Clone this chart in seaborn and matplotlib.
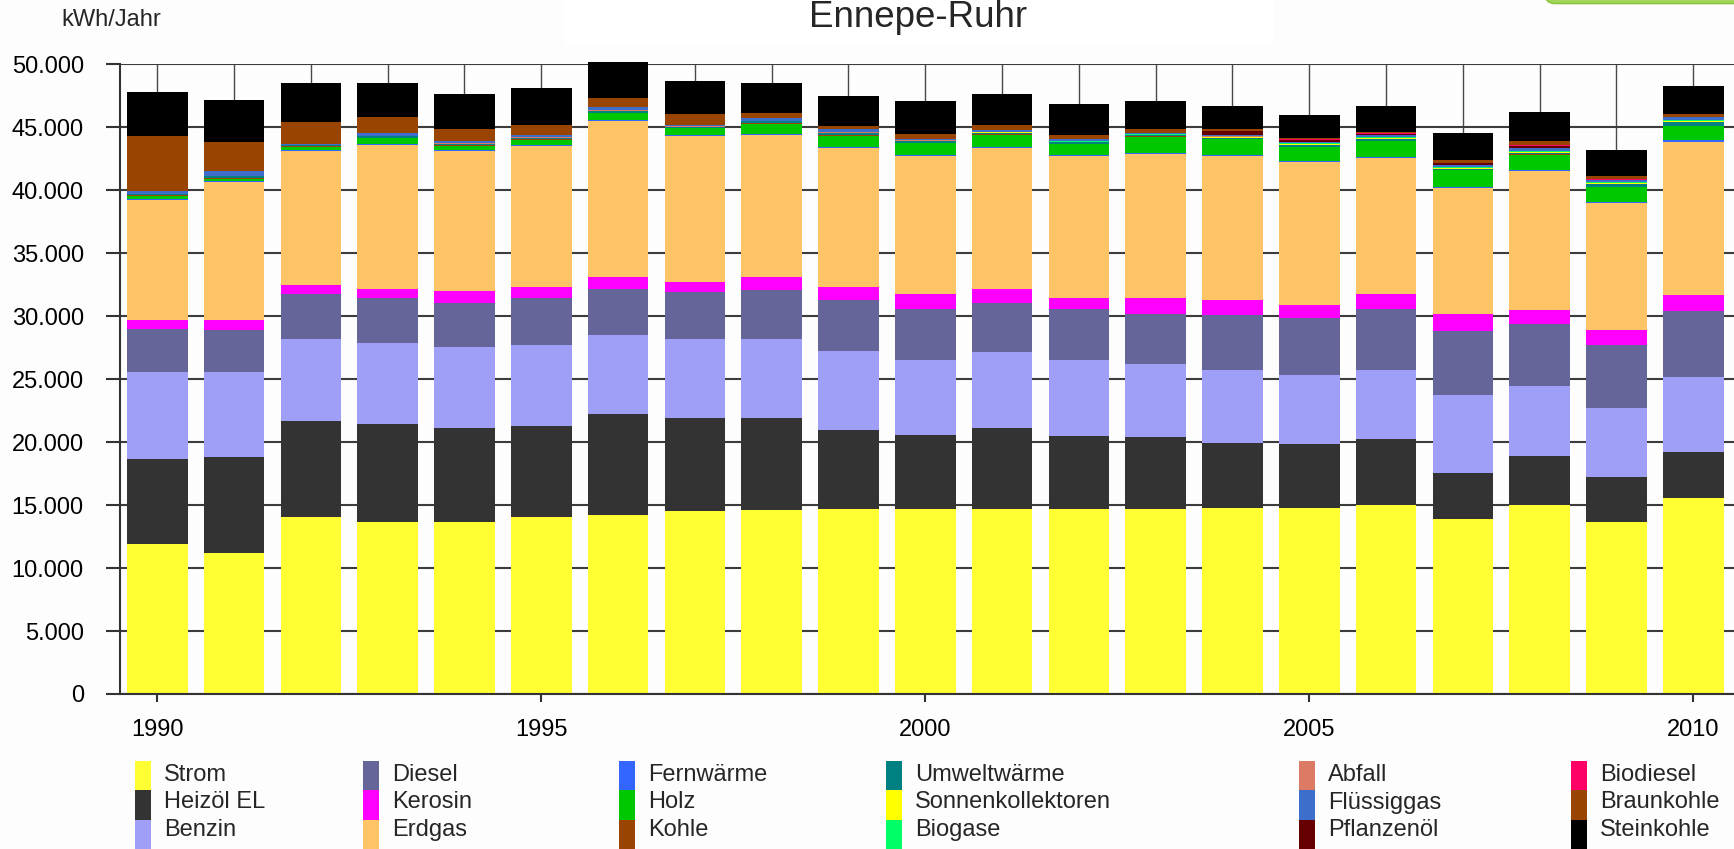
import matplotlib
matplotlib.use("Agg")
import matplotlib.pyplot as plt
import matplotlib.ticker as mticker
import matplotlib.patches as mpatches
import matplotlib.transforms as mtransforms
import pandas as pd
import seaborn as sns

# ---------------------------------------------------------------------------
# Endenergieverbrauch Ennepe-Ruhr nach Energieträgern (kWh/Jahr)
# ---------------------------------------------------------------------------
years = list(range(1990, 2011))

strom = [11940, 11180, 14040, 13650, 13650, 14040, 14240, 14570, 14640, 14700, 14700,
         14700, 14700, 14700, 14800, 14800, 14970, 13910, 14970, 13650, 15560]
heizoel = [6740, 7670, 7670, 7830, 7500, 7270, 7960, 7370, 7300, 6250, 5860,
           6450, 5790, 5690, 5160, 5030, 5260, 3620, 3940, 3620, 3680]
benzin = [6910, 6740, 6510, 6380, 6440, 6420, 6320, 6280, 6280, 6280, 5980,
          5980, 6050, 5820, 5790, 5500, 5520, 6250, 5530, 5420, 5920]
diesel = [3390, 3320, 3520, 3550, 3490, 3680, 3610, 3680, 3850, 4020, 4050,
          3950, 4050, 3950, 4340, 4500, 4840, 5060, 4930, 5040, 5260]
kerosin = [720, 790, 720, 720, 920, 920, 990, 830, 1050, 1080, 1150,
           1050, 890, 1250, 1160, 1090, 1150, 1320, 1120, 1210, 1250]
erdgas = [9540, 10920, 10630, 11490, 11090, 11180, 12370, 11570, 11280, 10990, 11020,
          11190, 11280, 11510, 11510, 11340, 10850, 10060, 11050, 10030, 12170]
fernwaerme = [100, 100, 80, 80, 100, 100, 120, 80, 100, 100, 80,
              80, 80, 80, 80, 80, 80, 80, 80, 100, 120]
holz = [200, 200, 300, 430, 350, 400, 500, 550, 800, 900, 880,
        1000, 800, 1250, 1200, 1100, 1250, 1300, 1200, 1200, 1150]
kohle = [60, 60, 50, 50, 50, 50, 50, 40, 40, 40, 40,
         40, 40, 40, 30, 30, 30, 30, 30, 30, 30]
umweltwaerme = [110, 130, 60, 120, 120, 120, 150, 80, 150, 200, 150,
                150, 150, 100, 100, 150, 150, 100, 150, 200, 300]
sonnenkollektoren = [0, 0, 0, 0, 0, 10, 10, 10, 20, 20, 30,
                     30, 40, 40, 50, 50, 50, 50, 60, 60, 60]
biogase = [0, 0, 0, 0, 0, 0, 0, 0, 0, 0, 0,
           0, 60, 50, 50, 60, 60, 60, 60, 60, 60]
abfall = [20, 20, 20, 20, 20, 20, 20, 20, 20, 20, 20,
          20, 20, 20, 20, 20, 20, 20, 20, 20, 20]
fluessiggas = [230, 380, 40, 230, 180, 190, 260, 140, 190, 230, 110,
               160, 120, 70, 120, 120, 200, 120, 180, 200, 240]
pflanzenoel = [0, 0, 0, 0, 0, 0, 0, 0, 0, 0, 0,
               0, 0, 0, 300, 150, 50, 150, 200, 0, 0]
biodiesel = [0, 0, 0, 0, 0, 0, 0, 0, 0, 0, 0,
             0, 0, 0, 30, 50, 50, 60, 60, 40, 40]
braunkohle = [4340, 2330, 1750, 1250, 980, 820, 700, 830, 430, 300, 400,
              420, 330, 320, 90, 100, 100, 240, 330, 230, 190]
steinkohle = [3490, 3360, 3120, 2690, 2730, 2870, 2860, 2630, 2360, 2330, 2660,
              2400, 2470, 2240, 1880, 1780, 2080, 2140, 2300, 2070, 2200]

carriers = ["Strom", "Heizöl EL", "Benzin", "Diesel", "Kerosin", "Erdgas",
            "Fernwärme", "Holz", "Kohle", "Umweltwärme", "Sonnenkollektoren",
            "Biogase", "Abfall", "Flüssiggas", "Pflanzenöl", "Biodiesel",
            "Braunkohle", "Steinkohle"]
series = [strom, heizoel, benzin, diesel, kerosin, erdgas, fernwaerme, holz, kohle,
          umweltwaerme, sonnenkollektoren, biogase, abfall, fluessiggas,
          pflanzenoel, biodiesel, braunkohle, steinkohle]
colors = ["#ffff33", "#333333", "#9f9ff7", "#65659a", "#ff00ff", "#ffc466",
          "#3366ff", "#00c800", "#994400", "#008080", "#ffff00",
          "#00ff66", "#dd7a66", "#3d6ecc", "#660000", "#ff0066",
          "#994400", "#000000"]
palette = dict(zip(carriers, colors))

rows = []
for name, vals in zip(carriers, series):
    for y, v in zip(years, vals):
        rows.append({"Jahr": y, "Träger": name, "kWh": v})
df = pd.DataFrame(rows)

# ---------------------------------------------------------------------------
sns.set_style("white")
plt.rcParams["font.family"] = ["Liberation Sans", "DejaVu Sans"]

W, H = 1734, 849
fig = plt.figure(figsize=(W / 100, H / 100), dpi=100, facecolor="#fdfdfd")
px = mtransforms.IdentityTransform()

# header box behind the title and the green tab in the corner
fig.add_artist(mpatches.Rectangle((564, H - 44), 710, 60, transform=px,
                                  facecolor="#ffffff", edgecolor="none", zorder=0))
fig.add_artist(mpatches.FancyBboxPatch((1545, H - 3.5), 300, 40,
                                       boxstyle="round,pad=0,rounding_size=10",
                                       transform=px, facecolor="#a4d65e",
                                       edgecolor="#8cc63e", linewidth=1.2, zorder=1))

ax_left, ax_bottom, ax_top = 119.6, 694, 64
ax = fig.add_axes([ax_left / W, 1 - ax_bottom / H, (W - ax_left) / W, (ax_bottom - ax_top) / H])
ax.set_facecolor("none")

sns.histplot(data=df, x="Jahr", weights="kWh", hue="Träger",
             hue_order=carriers[::-1], palette=palette,
             multiple="stack", discrete=True, shrink=0.79, element="bars",
             alpha=1, linewidth=0, edgecolor="none", legend=False, ax=ax)

for p in ax.patches:
    p.set_clip_on(False)

ax.set_xlim(1989.51, 2010.53)
ax.set_ylim(0, 50030)
ax.set_xlabel("")
ax.set_ylabel("")

ax.xaxis.set_major_locator(mticker.MultipleLocator(5))
ax.xaxis.set_minor_locator(mticker.MultipleLocator(1))
ax.yaxis.set_major_locator(mticker.MultipleLocator(5000))
ax.yaxis.set_major_formatter(mticker.FuncFormatter(lambda v, _: f"{int(v):,}".replace(",", ".")))

ax.set_axisbelow(True)
ax.grid(True, axis="y", which="major", color="#3c3c3c", linewidth=1.5)
ax.grid(True, axis="x", which="both", color="#4a4a4a", linewidth=1.0)

ax.tick_params(axis="x", which="major", direction="out", bottom=True, length=5.8, width=1.5,
               pad=12.5, labelsize=17, color="#333333", labelcolor="black")
ax.tick_params(axis="x", which="minor", length=0)
ax.tick_params(axis="y", which="major", direction="out", left=True, length=10, width=1.5,
               pad=15.8, labelsize=17, color="#333333", labelcolor="black")

for side in ("top", "right"):
    ax.spines[side].set_visible(False)
for side in ("left", "bottom"):
    ax.spines[side].set_color("#333333")
    ax.spines[side].set_linewidth(1.5)

# titles
fig.text(918 / W, 1 - 27 / H, "Ennepe-Ruhr", ha="center", va="baseline", fontsize=26.5)
fig.text(61 / W, 1 - 26 / H, "kWh/Jahr", ha="left", va="baseline", fontsize=17)

# legend: six columns of three entries, filled column by column
swatch_x = [135, 363, 619, 886, 1299, 1571]
row_bounds = [(761, 789.5), (789.5, 819.5), (819.5, 849)]
baselines = [781, 808.5, 836]
for i, (name, col) in enumerate(zip(carriers, colors)):
    c, r = divmod(i, 3)
    x0 = swatch_x[c]
    top, bot = row_bounds[r]
    fig.add_artist(mpatches.Rectangle((x0 / W, 1 - bot / H), 16 / W, (bot - top) / H,
                                      transform=fig.transFigure, facecolor=col, edgecolor="none"))
    fig.text((x0 + 29) / W, 1 - baselines[r] / H, name, ha="left", va="baseline", fontsize=17)

fig.savefig("out.png", dpi=100, facecolor=fig.get_facecolor())
